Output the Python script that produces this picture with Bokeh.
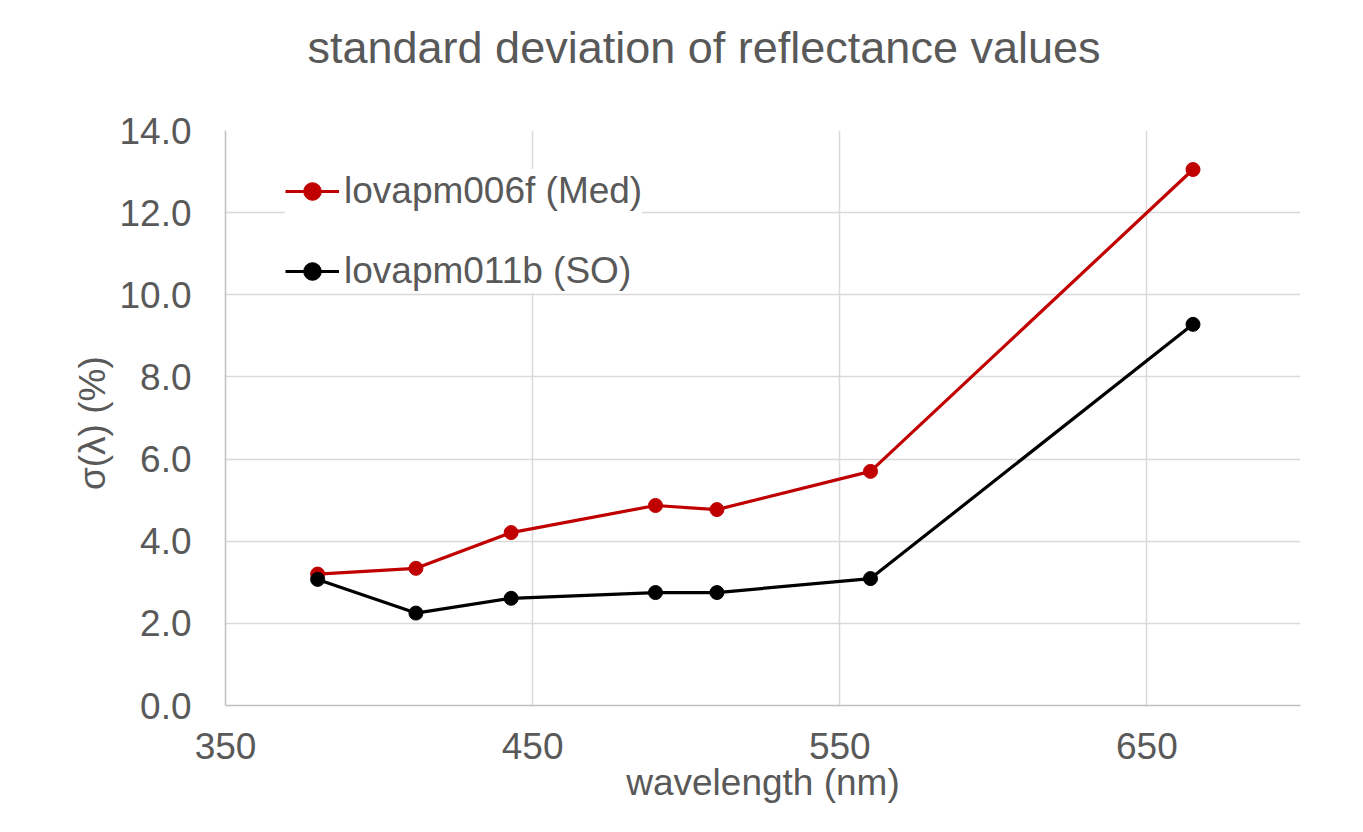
from bokeh.plotting import figure
from bokeh.models import FixedTicker, NumeralTickFormatter, Range1d, Title
from bokeh.embed import file_html
from bokeh.resources import INLINE

# ---- data ----
wavelength = [380, 412, 443, 490, 510, 560, 665]
sigma_med = [3.20, 3.34, 4.21, 4.87, 4.77, 5.70, 13.05]
sigma_so = [3.07, 2.25, 2.61, 2.75, 2.75, 3.09, 9.28]
series_names = ["lovapm006f (Med)", "lovapm011b (SO)"]
series_colors = ["#C00000", "#000000"]
x_ticks = [350, 450, 550, 650]
y_ticks = [0, 2, 4, 6, 8, 10, 12, 14]
title_text = "standard deviation of reflectance values"

FONT = "Liberation Sans"
TXT = "#595959"

p = figure(width=1355, height=824, output_backend="svg", toolbar_location=None,
           x_range=Range1d(350, 700), y_range=Range1d(0, 14),
           min_border_left=225, min_border_right=55, min_border_top=130, min_border_bottom=119)
p.outline_line_color = None
p.background_fill_color = "white"
p.border_fill_color = "white"
p.title_location = None

# spacer (closest to the frame) then the real title
spacer = Title(text=" ", text_font=FONT, text_font_size="45px", standoff=0)
p.add_layout(spacer, "above")
main_title = Title(text=title_text, align="left", offset=82, text_font=FONT,
                   text_font_size="45px", text_font_style="normal", text_color=TXT,
                   standoff=10)
p.add_layout(main_title, "above")

# axes
for ax in (p.xaxis[0], p.yaxis[0]):
    ax.axis_line_color = "#BFBFBF"
    ax.axis_line_width = 1.5
    ax.major_tick_line_color = None
    ax.minor_tick_line_color = None
    ax.major_label_text_font = FONT
    ax.major_label_text_color = TXT
    ax.major_label_text_font_size = "37px"
    ax.axis_label_text_font = FONT
    ax.axis_label_text_color = TXT
    ax.axis_label_text_font_size = "37px"
    ax.axis_label_text_font_style = "normal"

p.xaxis.ticker = FixedTicker(ticks=x_ticks)
p.yaxis.ticker = FixedTicker(ticks=y_ticks)
p.yaxis.formatter = NumeralTickFormatter(format="0.0")
p.xaxis.major_label_standoff = 21
p.yaxis.major_label_standoff = 28
p.xaxis.axis_label = "wavelength (nm)"
p.yaxis.axis_label = "σ(λ)  (%)"
p.xaxis.axis_label_standoff = 0
p.yaxis.axis_label_standoff = 3

p.xgrid.grid_line_color = "#D9D9D9"
p.ygrid.grid_line_color = "#D9D9D9"
p.xgrid.grid_line_width = 1.5
p.ygrid.grid_line_width = 1.5

# series
for vals, name, col in zip([sigma_med, sigma_so], series_names, series_colors):
    p.line(wavelength, vals, line_color=col, line_width=3.2, legend_label=name)
    p.scatter(wavelength, vals, marker="circle", size=14, fill_color=col, line_color=col,
              legend_label=name)

leg = p.legend[0]
leg.location = (60, 412)
leg.border_line_color = None
leg.background_fill_color = "white"
leg.background_fill_alpha = 1.0
leg.label_text_font = FONT
leg.label_text_font_size = "37px"
leg.label_text_color = TXT
leg.glyph_width = 54
leg.glyph_height = 44
leg.label_height = 44
leg.label_standoff = 5
leg.spacing = 36
leg.padding = 20
leg.margin = 0

open("out.html", "w").write(file_html(p, INLINE))
